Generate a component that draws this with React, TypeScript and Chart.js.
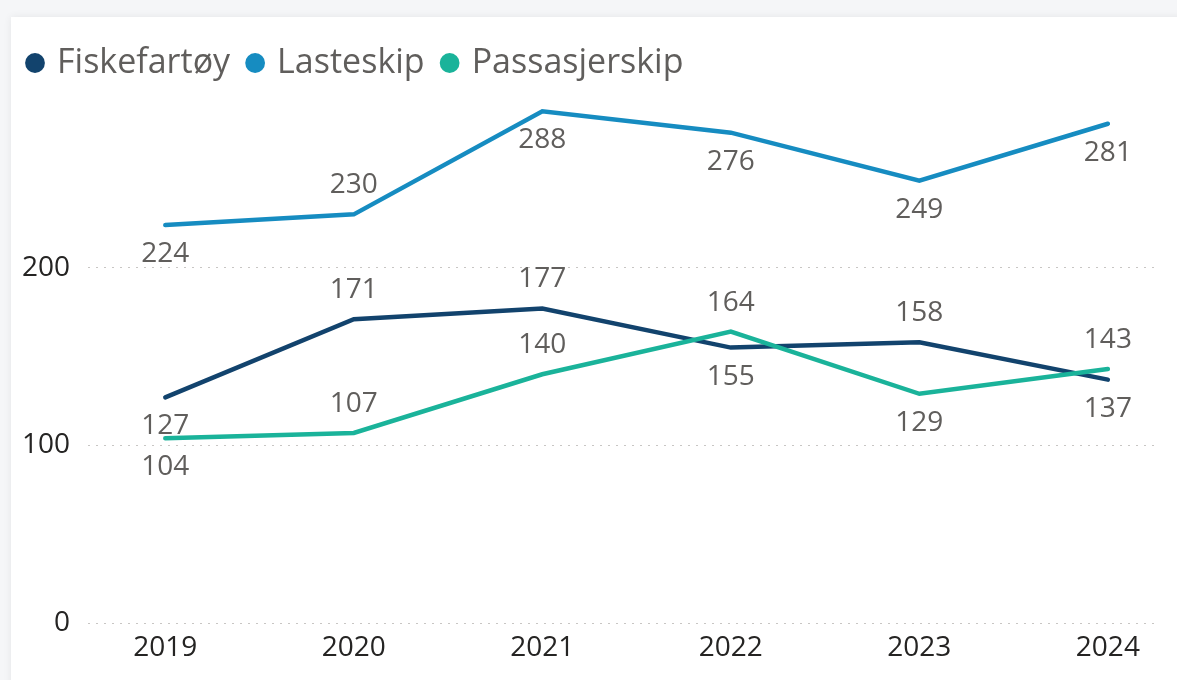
import React, { useEffect, useRef } from 'react';
import { Chart, registerables } from 'chart.js';

Chart.register(...registerables);

const years = [2019, 2020, 2021, 2022, 2023, 2024];
const fiskefartoy = [127, 171, 177, 155, 158, 137];
const lasteskip = [224, 230, 288, 276, 249, 281];
const passasjerskip = [104, 107, 140, 164, 129, 143];
const yTicks = [0, 100, 200];

const fiskLabelPos = ['below', 'above', 'above', 'below', 'above', 'below'];
const lastLabelPos = ['below', 'above', 'below', 'below', 'below', 'below'];
const passLabelPos = ['below', 'above', 'above', 'above', 'below', 'above'];

const FONT = "'Open Sans', sans-serif";

const labelPlugin = {
  id: 'pointLabels',
  afterDatasetsDraw(chart: any) {
    const ctx = chart.ctx;
    ctx.save();
    ctx.font = `28px ${FONT}`;
    ctx.fillStyle = '#605E5C';
    ctx.textAlign = 'center';
    ctx.textBaseline = 'middle';
    chart.data.datasets.forEach((ds: any, di: number) => {
      const meta = chart.getDatasetMeta(di);
      meta.data.forEach((el: any, i: number) => {
        const pos = ds.labelPos[i];
        const dy = pos === 'above' ? -29 : 29;
        ctx.fillText(String(ds.data[i].y), el.x, el.y + dy);
      });
    });
    ctx.restore();
  },
};

export default function App() {
  const ref = useRef<HTMLCanvasElement>(null);
  useEffect(() => {
    const mk = (vals: number[]) => years.map((x, i) => ({ x, y: vals[i] }));
    const chart = new Chart(ref.current!, {
      type: 'line',
      data: {
        datasets: [
          {
            label: 'Fiskefartøy',
            data: mk(fiskefartoy),
            borderColor: '#12436D',
            backgroundColor: '#12436D',
            labelPos: fiskLabelPos,
            order: 1,
          } as any,
          {
            label: 'Lasteskip',
            data: mk(lasteskip),
            borderColor: '#168CC1',
            backgroundColor: '#168CC1',
            labelPos: lastLabelPos,
            order: 1,
          },
          {
            label: 'Passasjerskip',
            data: mk(passasjerskip),
            borderColor: '#1AB39A',
            backgroundColor: '#1AB39A',
            labelPos: passLabelPos,
            order: 0,
          },
        ],
      },
      options: {
        responsive: false,
        animation: false,
        devicePixelRatio: 1,
        elements: {
          line: { borderWidth: 4.5, tension: 0, borderCapStyle: 'round' },
          point: { radius: 0, hoverRadius: 0 },
        },
        layout: { padding: { left: 10, right: 22, top: 26, bottom: 0 } },
        plugins: {
          tooltip: { enabled: false },
          legend: {
            position: 'top',
            align: 'start',
            labels: {
              usePointStyle: true,
              pointStyle: 'circle',
              boxWidth: 10,
              boxHeight: 14,
              padding: 20,
              color: '#605E5C',
              font: { family: FONT, size: 34 },
              generateLabels: (chart: any) => {
                const items = Chart.defaults.plugins.legend.labels.generateLabels(chart);
                return items
                  .sort((a: any, b: any) => a.datasetIndex - b.datasetIndex)
                  .map((it: any) => ({ ...it, lineWidth: 0 }));
              },
            },
          },
        },
        scales: {
          x: {
            type: 'linear',
            min: 2018.59,
            max: 2024.25,
            afterBuildTicks: (s: any) => {
              s.ticks = years.map((v) => ({ value: v }));
            },
            afterFit: (s: any) => {
              s.height = 57;
            },
            grid: { display: false, drawTicks: false },
            border: { display: false },
            ticks: {
              padding: 8,
              color: '#252423',
              font: { family: FONT, size: 28 },
              callback: (v: any) => String(v),
              maxRotation: 0,
            },
          },
          y: {
            min: 0,
            max: 300,
            afterBuildTicks: (s: any) => {
              s.ticks = yTicks.map((v) => ({ value: v }));
            },
            afterFit: (s: any) => {
              s.width = 78;
            },
            grid: {
              color: '#C8C6C4',
              lineWidth: 1,
              drawTicks: false,
            },
            border: { display: false, dash: [2, 6] },
            ticks: {
              padding: 18,
              color: '#252423',
              font: { family: FONT, size: 28 },
              callback: (v: any) => String(v),
            },
          },
        },
      } as any,
      plugins: [labelPlugin],
    });
    return () => chart.destroy();
  }, []);
  return (
    <div style={{ position: 'fixed', left: 0, top: 0, width: 1177, height: 680, background: '#F5F6F8', overflow: 'hidden' }}>
      <div
        style={{
          position: 'absolute',
          left: 11,
          top: 17,
          width: 1200,
          height: 700,
          background: '#FFFFFF',
          boxShadow: '0 0 8px rgba(0,0,0,0.07)',
        }}
      />
      <canvas ref={ref} width={1177} height={680} style={{ position: 'absolute', left: 0, top: 0 }} />
    </div>
  );
}
